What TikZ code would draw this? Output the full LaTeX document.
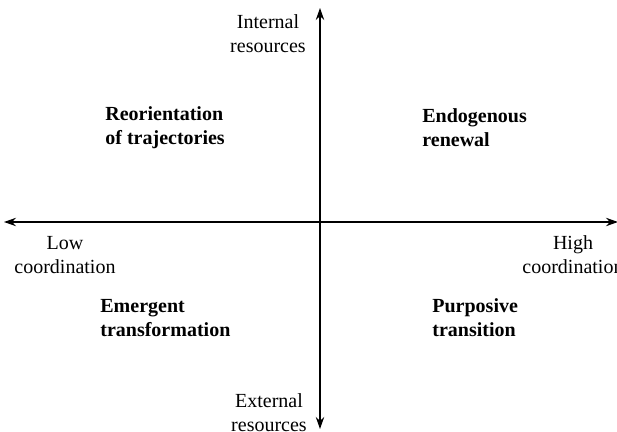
\documentclass[tikz,border=0pt]{standalone}
\usepackage{fontspec}
\setmainfont{Liberation Serif}
\usetikzlibrary{arrows.meta}

\tikzset{
  axislabel/.style={align=center, inner sep=0pt},
  quadlabel/.style={align=left, anchor=west, inner sep=0pt, font=\bfseries},
  axisline/.style={semithick, {Stealth[length=6pt,width=4.2pt]}-{Stealth[length=6pt,width=4.2pt]}}
}

\begin{document}
\begin{tikzpicture}[x=0.5pt,y=-0.5pt]
\useasboundingbox (0,0) rectangle (617,432);

% Axes
\coordinate (top) at (320,8);
\coordinate (bottom) at (320,429);
\coordinate (left) at (4,222);
\coordinate (right) at (618,222);
\draw[axisline] (bottom) -- (top);
\draw[axisline] (left) -- (right);

% Axis labels
\node[axislabel] (internal) at (268,34) {Internal\\resources};
\node[axislabel] (external) at (269,413) {External\\resources};
\node[axislabel] (low) at (65,255) {Low\\coordination};
\node[axislabel] (high) at (573,255) {High\\coordination};

% Quadrants
\node[quadlabel] (reorient) at (105,128) {Reorientation\\of trajectories};
\node[quadlabel] (endog) at (422,128) {Endogenous\\renewal};
\node[quadlabel] (emergent) at (100,318) {Emergent\\transformation};
\node[quadlabel] (purposive) at (432,318) {Purposive\\transition};
\end{tikzpicture}
\end{document}
